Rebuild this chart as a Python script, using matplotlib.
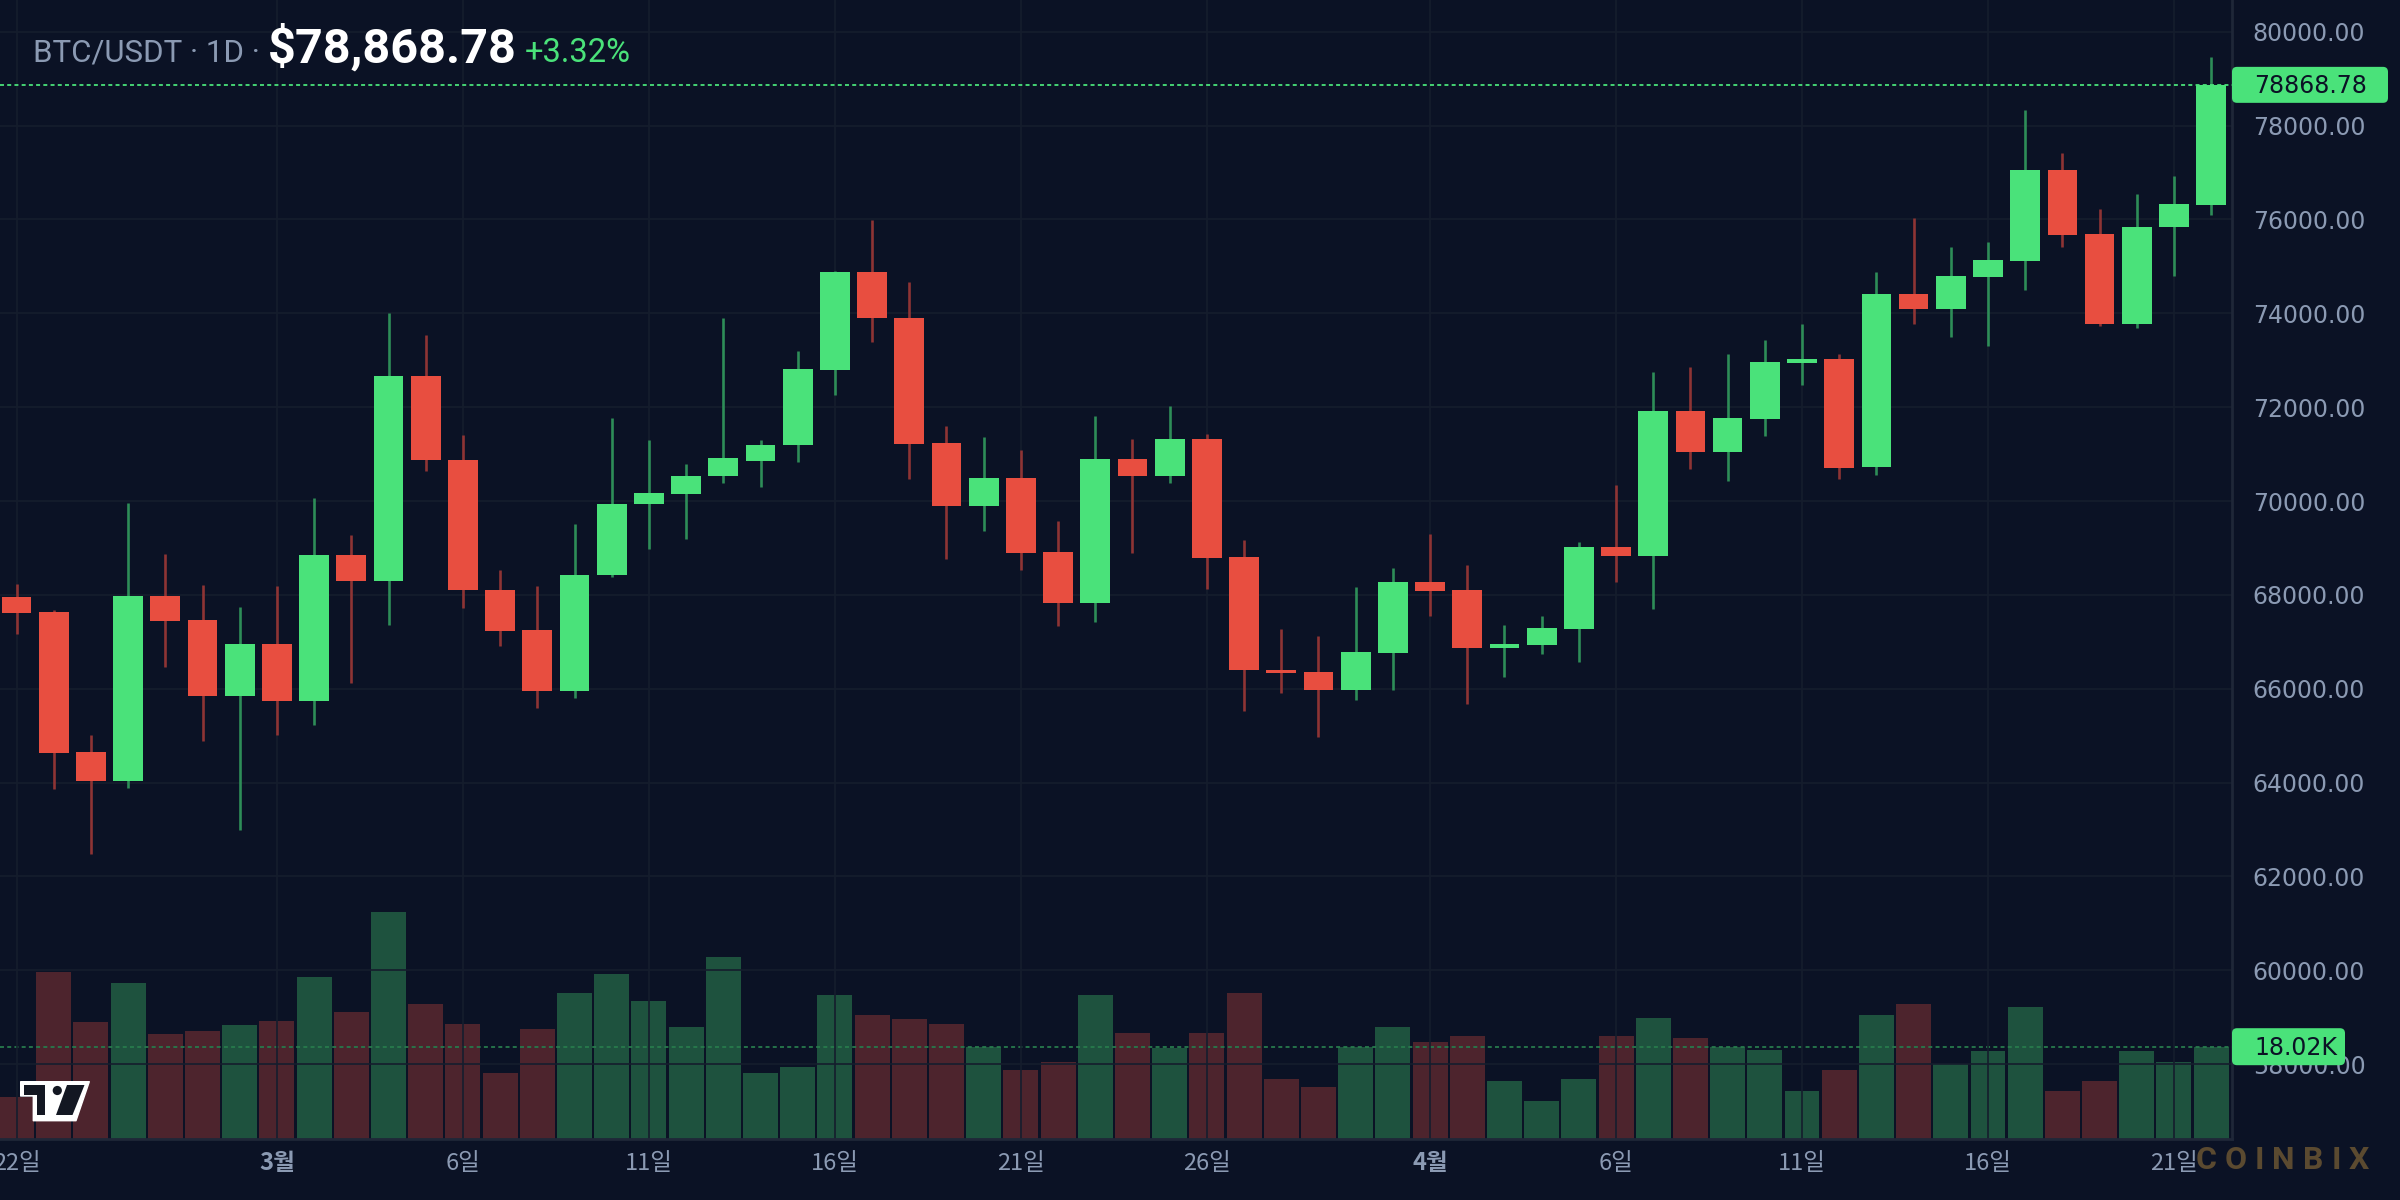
import matplotlib
matplotlib.use("Agg")
import matplotlib.pyplot as plt
from matplotlib.patches import FancyBboxPatch, Polygon, Circle
from matplotlib.ticker import FormatStrFormatter

# ---- data ----
opens = [67965, 67644, 64655, 64036, 67986, 67473, 65851, 66961, 65744, 68840,
         68306, 72672, 70869, 68112, 67256, 65942, 68414, 69931, 70160, 70527,
         70853, 71187, 72802, 74891, 73904, 71245, 69898, 70494, 68920, 67835,
         70902, 70535, 71326, 68814, 66399, 66358, 65975, 66770, 68276, 68105,
         66877, 66940, 67275, 69022, 68830, 71919, 71046, 71749, 72942, 73027,
         70724, 74419, 74099, 74780, 75121, 77057, 75695, 73780, 75844, 76312]
highs = [68242, 67687, 65018, 69960, 68861, 68221, 67751, 68199, 70060, 69267,
         74000, 73545, 71416, 68536, 68194, 69515, 71775, 71310, 70796, 73904,
         71310, 73202, 74907, 75992, 74670, 71604, 71367, 71090, 69581, 71816,
         71326, 72027, 71432, 69173, 67280, 67125, 68169, 68574, 69298, 68638,
         67360, 67551, 69128, 70343, 72750, 72857, 73134, 73432, 73773, 73134,
         74887, 76036, 75418, 75525, 78333, 77418, 76227, 76546, 76929, 79461]
lows = [67175, 63865, 62477, 63886, 66470, 64890, 62990, 65018, 65232, 66128,
        67367, 70633, 67729, 66905, 65592, 65796, 68373, 68969, 69181, 70380,
        70290, 70837, 72256, 73381, 70478, 68773, 69368, 68536, 67337, 67427,
        68895, 70388, 68128, 65526, 65910, 64980, 65763, 65975, 67559, 65677,
        66252, 66742, 66571, 68276, 67700, 70683, 70428, 71386, 72473, 70470,
        70553, 73780, 73489, 73298, 74504, 75418, 73738, 73695, 74801, 76099]
closes = [67623, 64634, 64036, 67986, 67452, 65851, 66961, 65744, 68840, 68306,
          72672, 70869, 68096, 67239, 65942, 68430, 69939, 70176, 70535, 70918,
          71195, 72819, 74891, 73896, 71220, 69898, 70494, 68895, 67835, 70902,
          70535, 71326, 68789, 66391, 66342, 65975, 66790, 68276, 68091, 66877,
          66955, 67296, 69022, 68830, 71919, 71046, 71770, 72963, 73027, 70705,
          74419, 74099, 74801, 75142, 77057, 75674, 73780, 75844, 76333, 78868.78]
volumes_k = [8.2, 32.6, 22.8, 30.4, 20.5, 21.1, 22.2, 23.0, 31.6, 24.8,
             44.3, 26.3, 22.4, 12.9, 21.5, 28.5, 32.2, 26.9, 21.9, 35.5,
             12.9, 14.1, 28.2, 24.3, 23.4, 22.5, 18.0, 13.5, 15.0, 28.2,
             20.7, 17.7, 20.7, 28.5, 11.7, 10.2, 18.0, 21.9, 18.9, 20.1,
             11.4, 7.5, 11.7, 20.1, 23.7, 19.8, 18.0, 17.4, 9.3, 13.5,
             24.3, 26.4, 14.7, 17.1, 25.8, 9.3, 11.4, 17.1, 15.0, 18.02]

tick_pos = [0, 7, 12, 17, 22, 27, 32, 38, 43, 48, 53, 58]
tick_labels = ['22일', '3월', '6일', '11일', '16일', '21일', '26일', '4월', '6일', '11일', '16일', '21일']
month_labels = ['3월', '4월']
price_ticks = list(range(58000, 80001, 2000))

symbol = 'BTC/USDT · 1D ·'
last_price = 78868.78
change_txt = '+3.32%'
last_vol_k = 18.02

# ---- colours ----
BG = '#0b1225'
GRID = '#151d2d'
AXLINE = '#1f2738'
TXT = '#8b9ab3'
UP = '#4ae27a'
DOWN = '#e84e40'
UP_WICK = '#2e8d58'
DOWN_WICK = '#8e3434'
UP_VOL = '#1e523e'
DOWN_VOL = '#4d242d'

W, H = 2400, 1200
plot_right = 2232
plot_bottom = 1139

fig = plt.figure(figsize=(24, 12), dpi=100, facecolor=BG)
rect = [0, 1 - plot_bottom / H, plot_right / W, plot_bottom / H]
ax = fig.add_axes(rect)
axv = ax.twinx()
ax.set_zorder(2)
axv.set_zorder(1)
ax.patch.set_visible(False)
axv.patch.set_facecolor(BG)

n = len(closes)
x = list(range(n))
up = [c >= o for o, c in zip(opens, closes)]

# volume
axv.bar(x, volumes_k, width=0.94, color=[UP_VOL if u else DOWN_VOL for u in up], zorder=2)
axv.set_ylim(0, last_vol_k * plot_bottom / 92.3)
axv.axhline(last_vol_k, color='#277a4c', lw=1.3, ls=(0, (2.2, 1.8)), zorder=3)
axv.set_yticks([])
for s in axv.spines.values():
    s.set_visible(False)

# candles
ax.vlines(x, lows, highs, colors=[UP_WICK if u else DOWN_WICK for u in up], lw=1.9, zorder=3)
bottoms = [min(o, c) for o, c in zip(opens, closes)]
heights = [max(abs(c - o), 45) for o, c in zip(opens, closes)]
ax.bar(x, heights, bottom=bottoms, width=0.8, color=[UP if u else DOWN for u in up], zorder=4)
ax.axhline(last_price, color=UP, lw=1.3, ls=(0, (2.2, 1.8)), zorder=5)

ax.set_xlim(-0.446, 59.56)
ax.set_ylim(56405, 80677)

ax.set_yticks(price_ticks)
ax.yaxis.set_major_formatter(FormatStrFormatter('%.2f'))
ax.yaxis.tick_right()
ax.tick_params(axis='y', length=0, pad=15, labelsize=17, labelcolor=TXT)
ax.set_xticks(tick_pos)
ax.set_xticklabels(tick_labels)
ax.tick_params(axis='x', length=0, pad=9, labelsize=17, labelcolor=TXT)
for lab in ax.get_xticklabels():
    lab.set_fontfamily(['Noto Sans CJK KR', 'DejaVu Sans'])
    if lab.get_text() in month_labels:
        lab.set_fontweight('bold')
ax.grid(color=GRID, lw=1.2, zorder=0)
ax.set_axisbelow(True)
for side in ['top', 'left']:
    ax.spines[side].set_visible(False)
for side in ['right', 'bottom']:
    ax.spines[side].set_color(AXLINE)
    ax.spines[side].set_linewidth(2)

# ---- overlay in pixel coordinates ----
ov = fig.add_axes([0, 0, 1, 1])
ov.set_xlim(0, W)
ov.set_ylim(H, 0)
ov.axis('off')
ov.set_zorder(10)
ov.patch.set_visible(False)

# header
ov.text(33, 62, symbol, fontsize=22.5, color=TXT, family='Roboto', va='baseline')
ov.text(268, 63, f'${last_price:,.2f}', fontsize=35, color='white', weight='bold',
        family='Roboto', va='baseline')
ov.text(525, 62, change_txt, fontsize=23.5, color=UP, family='Roboto', va='baseline')

# price tag
yp = H - ax.transData.transform((0, last_price))[1]
ov.add_patch(FancyBboxPatch((plot_right, yp - 18), 156, 36,
                            boxstyle='round,pad=0,rounding_size=5', fc=UP, ec='none'))
ov.text(2254, yp + 1, f'{last_price:.2f}', fontsize=17, color=BG, va='center')

# volume tag
yv = H - axv.transData.transform((0, last_vol_k))[1]
ov.add_patch(FancyBboxPatch((plot_right, yv - 18.5), 113, 37,
                            boxstyle='round,pad=0,rounding_size=5', fc=UP, ec='none'))
ov.text(2254, yv + 1, f'{last_vol_k:.2f}K', fontsize=17, color=BG, va='center')

# tradingview logo
ov.add_patch(Polygon([(20.7, 1081.7), (89.3, 1081.7), (76, 1120.7), (33.3, 1120.7),
                      (33.3, 1096), (20.7, 1096)], closed=True, fc='white', ec='white',
                     lw=1, joinstyle='round'))
ov.add_patch(Polygon([(24, 1085), (45, 1085), (45, 1115), (36.5, 1115), (36.5, 1095), (24, 1095)],
                     closed=True, fc='#131722', ec='none'))
ov.add_patch(Circle((57.3, 1090.5), 4.6, fc='#131722', ec='none'))
ov.add_patch(Polygon([(67, 1085), (84.5, 1085), (72.5, 1115), (56, 1115)],
                     closed=True, fc='#131722', ec='none'))

# watermark
letters = 'COINBIX'
rel = [0.65, 0.69, 0.28, 0.71, 0.64, 0.28, 0.63]
em = 32
gap = (173 - sum(rel) * em) / 6
cx = 2196
for ch, r in zip(letters, rel):
    w = r * em
    ov.text(cx + w / 2, 1169, ch, fontsize=23, weight='bold', family='Roboto',
            color='#5b4a30', ha='center', va='baseline')
    cx += w + gap

fig.savefig('out.png', dpi=100, facecolor=BG)
